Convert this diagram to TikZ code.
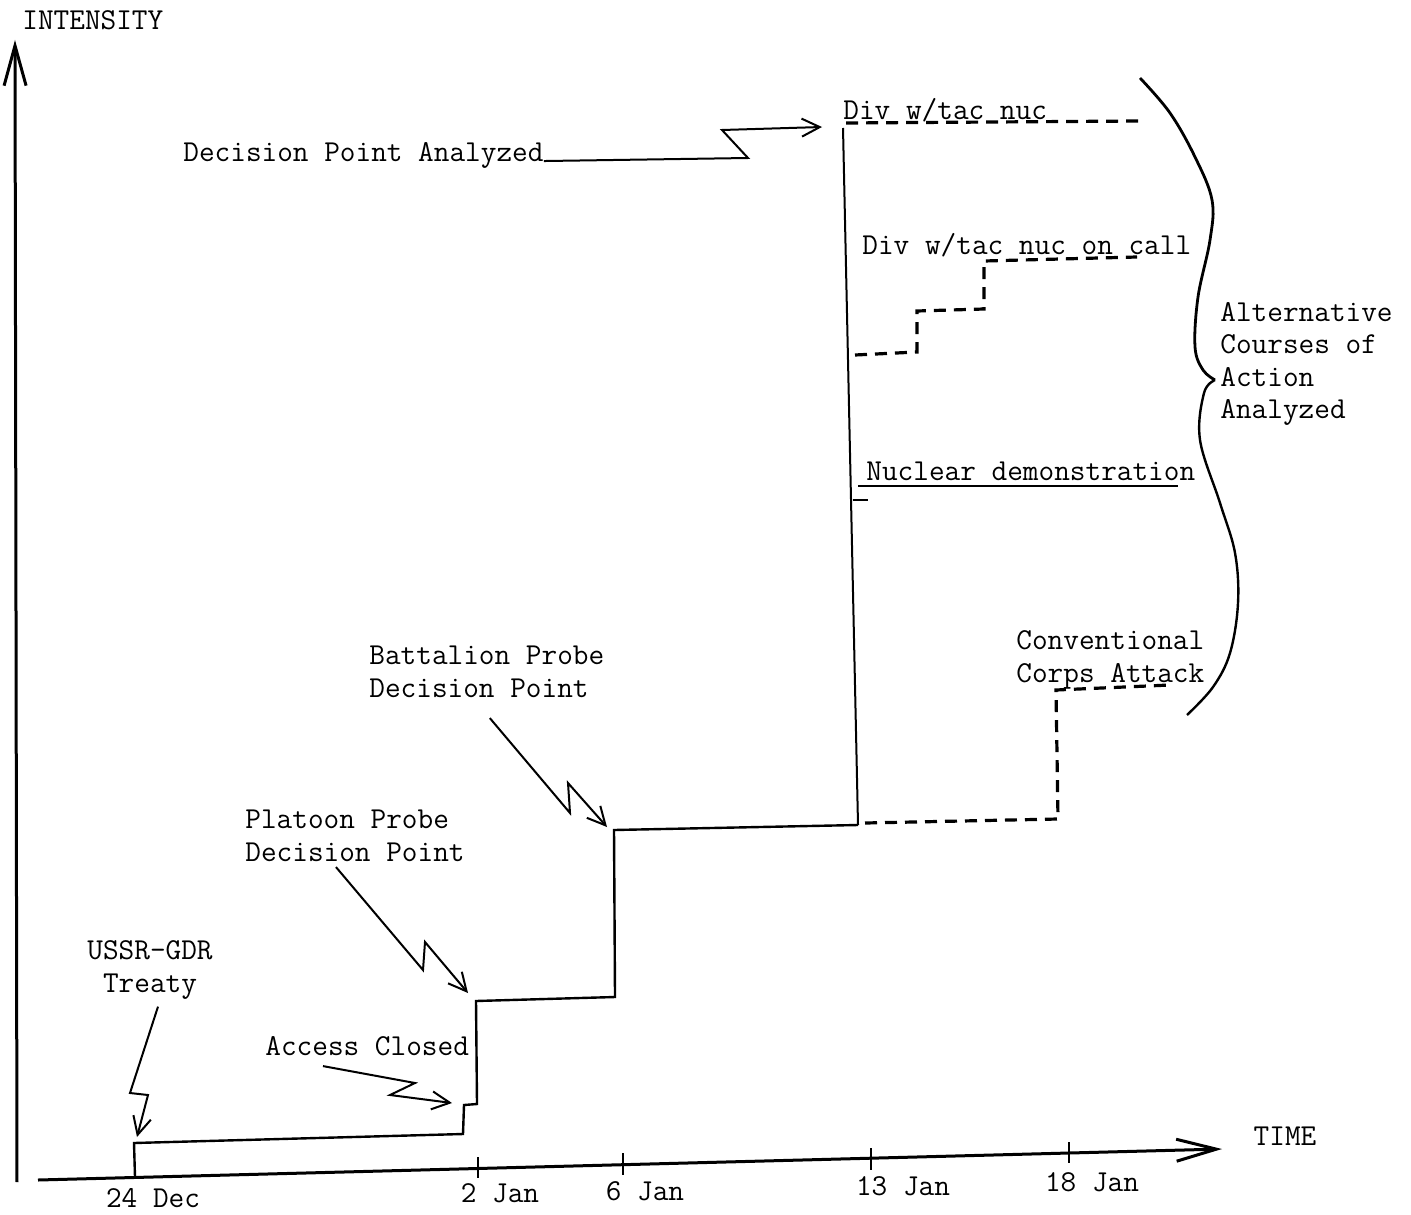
\documentclass[tikz,border=0pt]{standalone}
\usepackage{fontspec}
\usetikzlibrary{arrows.meta}
\begin{document}
\begin{tikzpicture}[x=0.5pt,y=-0.5pt,
  lbl/.style={font=\ttfamily\fontsize{15.2}{16.3}\selectfont, inner sep=0pt, align=left},
  clbl/.style={lbl, align=center},
  axisline/.style={line width=1.5pt},
  stepline/.style={line width=1.2pt},
  altline/.style={line width=1.6pt, dash pattern=on 6pt off 4pt},
  thinline/.style={line width=0.7pt},
  callout/.style={line width=1pt, -{Straight Barb[length=9pt,width=9pt]}},
  bigarrow/.style={axisline, -{Straight Barb[length=20pt,width=11pt]}},
  ]
\useasboundingbox (0,0) rectangle (1411,1214);

% axes
\coordinate (yorig) at (17,1182);
\coordinate (ytip) at (15,40);
\coordinate (xorig) at (38,1180);
\coordinate (xtip) at (1222,1149);
\draw[bigarrow] (yorig) -- (ytip);
\draw[bigarrow] (xorig) -- (xtip);
\node[lbl, anchor=west] (intensity) at (22,20) {INTENSITY};
\node[lbl] (time) at (1285,1136) {TIME};

% ticks
\draw[line width=1pt] (478,1157) -- (478,1178);
\draw[line width=1pt] (623,1153) -- (623,1175);
\draw[line width=1pt] (871,1148) -- (871,1170);
\draw[line width=1pt] (1069,1142) -- (1069,1163);
\node[lbl] (d24) at (153,1198) {24 Dec};
\node[lbl] (j2) at (500,1193) {2 Jan};
\node[lbl] (j6) at (645,1191) {6 Jan};
\node[lbl] (j13) at (903,1186) {13 Jan};
\node[lbl] (j18) at (1092,1182) {18 Jan};

% main step line
\coordinate (s0) at (135,1177);
\coordinate (s1) at (134,1143);
\coordinate (s2) at (463,1134);
\coordinate (s3) at (464,1105);
\coordinate (s4) at (477,1104);
\coordinate (s5) at (476,1001);
\coordinate (s6) at (615,997);
\coordinate (s7) at (614,830);
\coordinate (s8) at (858,825);
\coordinate (top) at (843,128);
\draw[stepline] (s0) -- (s1) -- (s2) -- (s3) -- (s4) -- (s5) -- (s6) -- (s7) -- (s8);
\draw[line width=1pt] (s8) -- (top);

% alternative courses
\node[lbl, anchor=west] (divnuc) at (843,110) {Div w/tac nuc};
\draw[altline] (846,123) -- (1140,121);

\node[lbl, anchor=west] (divcall) at (862,245) {Div w/tac nuc on call};
\draw[altline] (855,355) -- (917,352) -- (917,311) -- (984,309) -- (984,261) -- (1137,257);

\node[lbl, anchor=west] (nucdemo) at (866,471) {Nuclear demonstration};
\draw[thinline] (858,486) -- (1178,486);
\draw[thinline] (853,500) -- (868,500);

\node[lbl, anchor=west] (conv) at (1016,660) {Conventional\\Corps Attack};
\draw[altline] (865,823) -- (1058,819) -- (1056,690) -- (1170,685);

% brace
\draw[line width=1.4pt] plot[smooth, tension=0.6] coordinates {(1140,78) (1170,113) (1195,157) (1212,200) (1210,240) (1198,297) (1195,347) (1203,370) (1215,380)};
\draw[line width=1.2pt] plot[smooth, tension=0.6] coordinates {(1215,380) (1204,393) (1200,440) (1220,503) (1235,553) (1238,603) (1230,653) (1213,687) (1187,715)};
\node[lbl, anchor=west] (alt) at (1220,364) {Alternative\\Courses of\\Action\\Analyzed};

% callouts
\node[lbl, anchor=west] (dpa) at (183,155) {Decision Point Analyzed};
\coordinate (dptip) at (822,127);
\draw[callout] (dpa.base east) -- (748,158) -- (722,130) -- (dptip);

\node[lbl, anchor=west] (bat) at (369,672) {Battalion Probe\\Decision Point};
\draw[callout] ([shift={(3,20)}]bat.south) -- (570,813) -- (568,783) -- ([shift={(-7,-3)}]s7);

\node[lbl, anchor=west] (pla) at (245,836) {Platoon Probe\\Decision Point};
\draw[callout] ([shift={(-19,5)}]pla.south) -- (423,970) -- (425,942) -- ([shift={(-8,-8)}]s5);

\node[clbl] (treaty) at (150,970) {USSR-GDR\\Treaty};
\draw[callout] ([shift={(8,7)}]treaty.south) -- (130,1093) -- (148,1095) -- ([shift={(3,-6)}]s1);

\node[lbl, anchor=west] (acc) at (265,1046) {Access Closed};
\draw[callout] ([shift={(58,10)}]acc.south west) -- (415,1083) -- (390,1095) -- ([shift={(-12,-2)}]s3);

\end{tikzpicture}
\end{document}
